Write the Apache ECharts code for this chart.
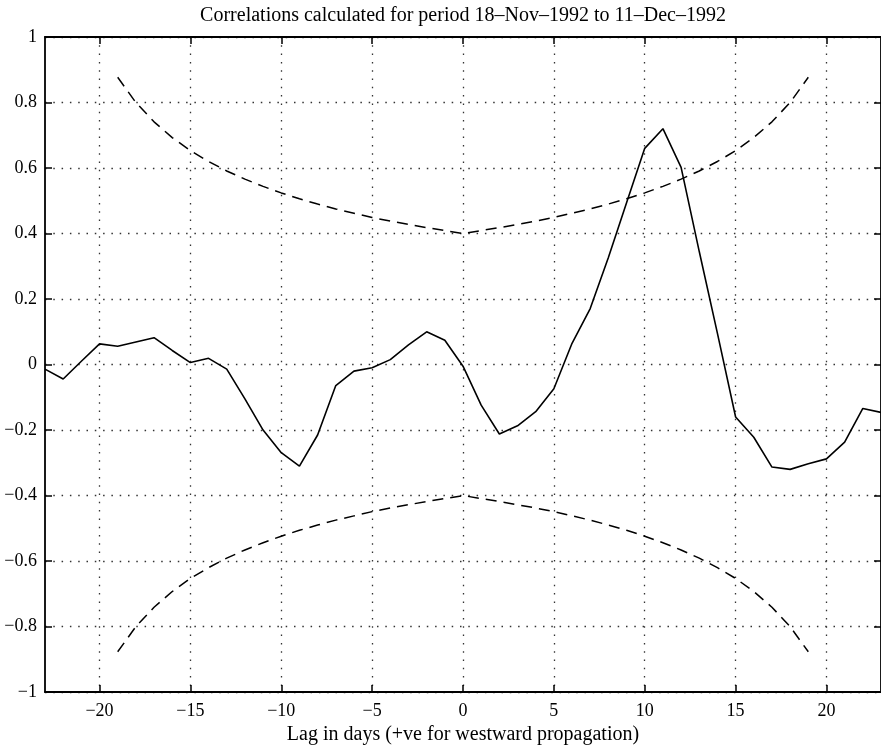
<!DOCTYPE html>
<html>
<head>
<meta charset="utf-8">
<script src="https://cdn.jsdelivr.net/npm/echarts@6/dist/echarts.min.js"></script>
<style>
html,body{margin:0;padding:0;background:#fff;}
#c{width:881px;height:750px;}
</style>
</head>
<body>
<div id="c"></div>
<script>
// ---- data ----
var titleText = 'Correlations calculated for period 18\u2013Nov\u20131992 to 11\u2013Dec\u20131992';
var xLabelText = 'Lag in days (+ve for westward propagation)';

var xTicks = [-20, -15, -10, -5, 0, 5, 10, 15, 20];
var yTicks = [-1, -0.8, -0.6, -0.4, -0.2, 0, 0.2, 0.4, 0.6, 0.8, 1];

var lags = [-23, -22, -21, -20, -19, -18, -17, -16, -15, -14, -13, -12, -11, -10, -9, -8, -7, -6, -5, -4, -3, -2, -1,
            0, 1, 2, 3, 4, 5, 6, 7, 8, 9, 10, 11, 12, 13, 14, 15, 16, 17, 18, 19, 20, 21, 22, 23];
var correlation = [-0.014, -0.044, 0.010, 0.063, 0.056, 0.069, 0.082, 0.043, 0.006, 0.019, -0.014, -0.105,
                   -0.200, -0.269, -0.310, -0.215, -0.064, -0.020, -0.010, 0.015, 0.060, 0.100, 0.074,
                   -0.005, -0.124, -0.212, -0.187, -0.144, -0.074, 0.065, 0.171, 0.327, 0.494, 0.660,
                   0.720, 0.602, 0.345, 0.095, -0.160, -0.222, -0.313, -0.320, -0.303, -0.288, -0.237,
                   -0.134, -0.146];

var bandLags = [-19, -18, -17, -16, -15, -14, -13, -12, -11, -10, -9, -8, -7, -6, -5, -4, -3, -2, -1,
                0, 1, 2, 3, 4, 5, 6, 7, 8, 9, 10, 11, 12, 13, 14, 15, 16, 17, 18, 19];
var upperBand = [0.877, 0.800, 0.741, 0.693, 0.653, 0.620, 0.591, 0.566, 0.544, 0.524, 0.506, 0.490, 0.475,
                 0.462, 0.449, 0.438, 0.428, 0.418, 0.409, 0.400, 0.409, 0.418, 0.428, 0.438, 0.449,
                 0.462, 0.475, 0.490, 0.506, 0.524, 0.544, 0.566, 0.591, 0.620, 0.653, 0.693, 0.741,
                 0.800, 0.877];
var lowerBand = [-0.877, -0.800, -0.741, -0.693, -0.653, -0.620, -0.591, -0.566, -0.544, -0.524, -0.506,
                 -0.490, -0.475, -0.462, -0.449, -0.438, -0.428, -0.418, -0.409, -0.400, -0.409, -0.418,
                 -0.428, -0.438, -0.449, -0.462, -0.475, -0.490, -0.506, -0.524, -0.544, -0.566, -0.591,
                 -0.620, -0.653, -0.693, -0.741, -0.800, -0.877];

// ---- chart ----
function pairs(xs, ys) { return xs.map(function (x, i) { return [x, ys[i]]; }); }
function fmt(v) {
  var s = (Math.round(v * 10) / 10).toString();
  return s.replace('-', '\u2212');
}
var FONT = "'Liberation Serif', 'Times New Roman', serif";
var axisLine = { show: true, onZero: false, lineStyle: { color: '#000', width: 1.8 } };
var tickIn = { show: true, inside: true, length: 7, lineStyle: { color: '#000', width: 1.5 } };
var gridDots = { show: true, lineStyle: { color: '#333', width: 1.3, type: [1.5, 6.8] } };

var chart = echarts.init(document.getElementById('c'), null, { renderer: 'canvas' });
chart.setOption({
  backgroundColor: '#fff',
  animation: false,
  grid: { left: 45, right: 0, top: 37, bottom: 51, containLabel: false },
  xAxis: [{
    type: 'value', min: -23, max: 23, position: 'bottom',
    axisLine: axisLine,
    axisTick: Object.assign({ customValues: xTicks }, tickIn),
    axisLabel: { customValues: xTicks, formatter: fmt, color: '#000', fontFamily: FONT, fontSize: 18, margin: 10 },
    splitLine: gridDots,
    name: xLabelText, nameLocation: 'middle', nameGap: 29,
    nameTextStyle: { color: '#000', fontFamily: FONT, fontSize: 20 }
  }, {
    type: 'value', min: -23, max: 23, position: 'top',
    axisLine: axisLine,
    axisTick: Object.assign({ customValues: xTicks }, tickIn),
    axisLabel: { show: false },
    splitLine: { show: false },
    name: titleText, nameLocation: 'middle', nameGap: 11,
    nameTextStyle: { color: '#000', fontFamily: FONT, fontSize: 20 }
  }],
  yAxis: [{
    type: 'value', min: -1, max: 1, interval: 0.2, position: 'left',
    axisLine: axisLine,
    axisTick: tickIn,
    axisLabel: { formatter: fmt, color: '#000', fontFamily: FONT, fontSize: 18, margin: 8 },
    splitLine: gridDots
  }, {
    type: 'value', min: -1, max: 1, interval: 0.2, position: 'right',
    axisLine: axisLine,
    axisTick: tickIn,
    axisLabel: { show: false },
    splitLine: { show: false }
  }],
  series: [{
    type: 'line', data: pairs(lags, correlation), showSymbol: false, symbol: 'none',
    lineStyle: { color: '#000', width: 1.6 }, z: 5
  }, {
    type: 'line', data: pairs(bandLags, upperBand), showSymbol: false, symbol: 'none',
    lineStyle: { color: '#000', width: 1.5, type: [11, 7] }, z: 4
  }, {
    type: 'line', data: pairs(bandLags, lowerBand), showSymbol: false, symbol: 'none',
    lineStyle: { color: '#000', width: 1.5, type: [11, 7] }, z: 4
  }]
});
</script>
</body>
</html>
